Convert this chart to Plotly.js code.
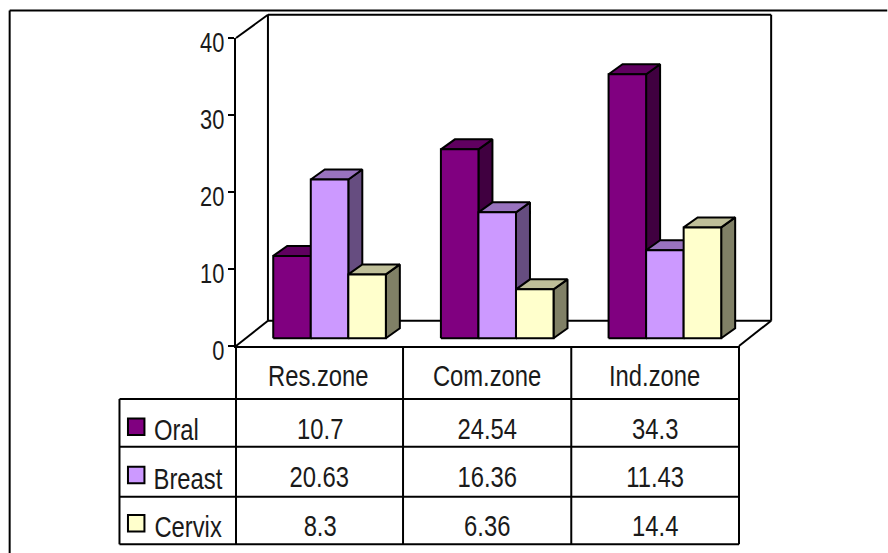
<!DOCTYPE html>
<html>
<head>
<meta charset="utf-8">
<script src="https://cdn.plot.ly/plotly-3.0.1.min.js"></script>
<style>html,body{margin:0;padding:0;background:#fff}#chart{width:888px;height:553px}</style>
</head>
<body>
<div id="chart"></div>
<script>
// Cancer share by city zone, as a pseudo-3D clustered column chart with a data table.
const categories = ['Res.zone', 'Com.zone', 'Ind.zone'];
const seriesNames = ['Oral', 'Breast', 'Cervix'];
const oral = [10.7, 24.54, 34.3];
const breast = [20.63, 16.36, 11.43];
const cervix = [8.3, 6.36, 14.4];
const tableText = [['10.7', '24.54', '34.3'], ['20.63', '16.36', '11.43'], ['8.3', '6.36', '14.4']];
const tickValues = [0, 10, 20, 30, 40];

const frontColors = ['#800080', '#CC99FF', '#FFFFCC'];
const topColors = ['#600060', '#9973BF', '#BFBF99'];
const sideColors = ['#400040', '#664D80', '#808066'];

// Page geometry, in pixels
const W = 888, H = 553;
const plot = {l: 235.7, r: 739.5, t: 38, b: 346};
const FONT = '"Liberation Sans", Arial, sans-serif';
const pxPerCat = (plot.r - plot.l) / categories.length;
const pxPerUnit = (plot.b - plot.t) / 40;
const dxCat = p => p / pxPerCat;   // horizontal pixels to category units
const dyVal = p => p / pxPerUnit;  // vertical pixels to value units
const px = x => (x - plot.l) / (plot.r - plot.l);  // page x to paper x
const py = y => (plot.b - y) / (plot.b - plot.t);  // page y to paper y

// Oblique projection of each column
const col = {dx: dxCat(14), dy: dyVal(10), w: dxCat(37.6), start: dxCat(37.3), floor: dyVal(7.7)};

const traces = [];
function face(x, y, color, name) {
  traces.push({type: 'scatter', mode: 'lines', x, y, fill: 'toself', fillcolor: color, name,
    line: {color: '#000', width: 2}, hoverinfo: 'skip', showlegend: false});
}

// Columns, painted left to right so nearer faces overlap correctly
[oral, breast, cervix].forEach(function (values, s) {
  values.forEach(function (v, c) {
    const x0 = c + col.start + s * col.w, x1 = x0 + col.w;
    const y0 = col.floor, y1 = col.floor + v;
    face([x1, x1 + col.dx, x1 + col.dx, x1, x1], [y0, y0 + col.dy, y1 + col.dy, y1, y0], sideColors[s], seriesNames[s]);
    face([x0, x0 + col.dx, x1 + col.dx, x1, x0], [y1, y1 + col.dy, y1 + col.dy, y1, y1], topColors[s], seriesNames[s]);
    face([x0, x1, x1, x0, x0], [y0, y0, y1, y1, y0], frontColors[s], seriesNames[s]);
  });
});

const shapes = [];
function rule(x0, y0, x1, y1) {
  shapes.push({type: 'line', layer: 'below', xref: 'paper', yref: 'paper', x0: px(x0), y0: py(y0), x1: px(x1), y1: py(y1),
    line: {color: '#000', width: 2}});
}

// Walls and floor of the box
const back = {l: 267.7, r: 771.7, t: 14.7, b: 320.7};
rule(plot.l, plot.t, back.l, back.t);
rule(back.l, back.t, back.r, back.t);
rule(back.l, back.t, back.l, back.b);
rule(back.r, back.t, back.r, back.b);
rule(back.l, back.b, back.r, back.b);
rule(plot.l, plot.b, back.l, back.b);
rule(plot.r, plot.b, back.r, back.b);

// Data table under the plot
const rowY = [399, 446.7, 496.7, 544.3];
const colX = [235.7, 403, 571.5, 739.5];
colX.forEach(x => rule(x, plot.b, x, 544.3));
rule(119, 399, 119, 544.3);
rowY.forEach(y => rule(119, y, 739.5, y));

// Chart frame, open at the bottom and running off the right edge
rule(9, 10.5, 888, 10.5);
rule(9, 10.5, 9, 553);

const annotations = [];
function label(text, xPix, yPix) {
  annotations.push({text, xref: 'paper', yref: 'paper', x: px(xPix), y: py(yPix), xanchor: 'center', yanchor: 'middle',
    showarrow: false, font: {family: FONT, size: 29, color: '#1a1a1a'}, borderpad: 0});
}
const catY = 376, rowCentre = [429, 477, 526];
const catX = [318.5, 487.5, 655];
categories.forEach((name, c) => label(name, catX[c], catY));
tableText.forEach((row, s) => row.forEach((t, c) => label(t, (colX[c] + colX[c + 1]) / 2, rowCentre[s])));

// Legend keys in the table's first column
const keyTop = [418.5, 466.7, 515];
const keyLabelX = [176, 188, 188];
const keyLabelY = [430, 479, 527];
seriesNames.forEach(function (name, s) {
  shapes.push({type: 'rect', xref: 'paper', yref: 'paper', x0: px(127.5), x1: px(144), y0: py(keyTop[s]), y1: py(keyTop[s] + 16.5),
    fillcolor: frontColors[s], line: {color: '#000', width: 2}});
  label(name, keyLabelX[s], keyLabelY[s]);
});

// Squeeze glyphs horizontally to get the narrow typeface of the labels
function narrow(selector, factor) {
  document.querySelectorAll(selector).forEach(function (t) {
    t.setAttribute('textLength', (t.getComputedTextLength() * factor).toFixed(2));
    t.setAttribute('lengthAdjust', 'spacingAndGlyphs');
  });
}

Plotly.newPlot('chart', traces, {
  width: W, height: H,
  margin: {l: plot.l, r: W - plot.r, t: plot.t, b: H - plot.b, pad: 0},
  paper_bgcolor: '#fff', plot_bgcolor: 'rgba(0,0,0,0)',
  showlegend: false,
  xaxis: {range: [0, 3], showgrid: false, zeroline: false, showticklabels: false, ticks: '',
    showline: true, linecolor: '#000', linewidth: 2, fixedrange: true},
  yaxis: {range: [0, 40], tickvals: tickValues, ticktext: tickValues.map(String), showgrid: false, zeroline: false,
    ticks: 'outside', ticklen: 6, tickwidth: 2, tickcolor: '#000', showline: true, linecolor: '#000', linewidth: 2,
    tickfont: {family: FONT, size: 28, color: '#1a1a1a'}, ticklabelshift: 4, ticklabelstandoff: -2, fixedrange: true},
  shapes, annotations
}, {displayModeBar: false, staticPlot: true}).then(function () {
  narrow('.annotation-text', 0.82);
  narrow('.ytick text', 0.78);
});
</script>
</body>
</html>
